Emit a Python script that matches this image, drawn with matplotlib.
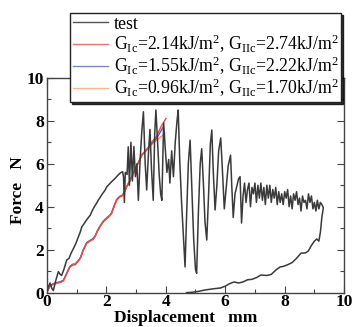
import matplotlib
matplotlib.use('Agg')
import matplotlib.pyplot as plt
from matplotlib.ticker import MultipleLocator

plt.rcParams['font.family'] = ['Liberation Serif', 'DejaVu Serif']
plt.rcParams['mathtext.fontset'] = 'custom'
plt.rcParams['mathtext.rm'] = 'Liberation Serif'
plt.rcParams['mathtext.it'] = 'Liberation Serif:italic'
plt.rcParams['mathtext.bf'] = 'Liberation Serif:bold'

# ---- data ----
test_x = [0.00, 0.06, 0.11, 0.17, 0.22, 0.30, 0.39, 0.45, 0.50, 0.58, 0.67, 0.75, 0.82, 0.90, 0.98,
          1.05, 1.12, 1.18, 1.25, 1.32, 1.40, 1.46, 1.53, 1.60, 1.67, 1.73, 1.80, 1.88, 1.95, 2.02,
          2.10, 2.17, 2.24, 2.32, 2.40, 2.48, 2.55, 2.58, 2.61, 2.64, 2.70, 2.74, 2.78, 2.83, 2.88,
          2.93, 2.98, 3.03, 3.08, 3.14, 3.20, 3.25, 3.31, 3.36, 3.42, 3.47, 3.52, 3.58, 3.63, 3.67,
          3.72, 3.78, 3.83, 3.87, 3.93, 3.98, 4.04, 4.10, 4.14, 4.20, 4.26, 4.32, 4.38, 4.42, 4.47,
          4.53, 4.58, 4.65, 4.70, 4.76, 4.82, 4.88, 4.94, 5.00, 5.04, 5.10, 5.16, 5.21, 5.27, 5.32,
          5.38, 5.44, 5.50, 5.55, 5.60, 5.66, 5.72, 5.78, 5.85, 5.91, 5.97, 6.03, 6.10, 6.18, 6.22,
          6.27, 6.33, 6.40, 6.45, 6.50, 6.55, 6.60, 6.65, 6.70, 6.75, 6.80, 6.85, 6.90, 6.95, 7.00,
          7.05, 7.10, 7.15, 7.20, 7.25, 7.30, 7.35, 7.40, 7.45, 7.50, 7.55, 7.60, 7.65, 7.70, 7.75,
          7.80, 7.85, 7.90, 7.95, 8.00, 8.05, 8.10, 8.15, 8.20, 8.25, 8.30, 8.35, 8.40, 8.45, 8.50,
          8.55, 8.60, 8.65, 8.70, 8.75, 8.80, 8.85, 8.90, 8.95, 9.00, 9.05, 9.10, 9.15, 9.20, 9.25,
          9.30,
          9.25, 9.20, 9.15, 9.08, 9.00, 8.90, 8.80, 8.70, 8.55, 8.40, 8.25, 8.10, 7.95, 7.85, 7.70,
          7.55, 7.40, 7.20, 7.05, 6.90, 6.75, 6.60, 6.45, 6.30, 6.15, 6.00, 5.85, 5.60, 5.30, 5.10,
          4.90, 4.70]
test_y = [0.00, 0.30, 0.45, 0.20, 0.10, 0.55, 0.98, 0.85, 0.80, 1.10, 1.52, 1.60, 1.85, 2.06, 2.30,
          2.55, 2.80, 3.07, 3.20, 3.35, 3.50, 3.60, 3.82, 4.00, 4.15, 4.30, 4.45, 4.62, 4.75, 4.93,
          5.05, 5.15, 5.24, 5.35, 5.48, 5.58, 5.63, 5.40, 4.20, 5.60, 5.50, 6.79, 5.00, 7.00, 5.20,
          6.80, 5.40, 6.00, 4.30, 6.20, 7.60, 8.42, 6.00, 4.78, 6.50, 7.60, 5.80, 4.30, 7.40, 8.50,
          7.20, 5.50, 4.60, 4.30, 7.90, 6.80, 5.60, 6.20, 5.10, 6.60, 5.40, 7.00, 8.00, 8.50, 6.20,
          4.30, 3.00, 1.20, 3.50, 6.00, 7.10, 4.80, 2.50, 1.10, 0.90, 3.80, 6.00, 6.70, 5.00, 3.30,
          2.45, 4.50, 6.90, 7.57, 5.60, 3.85, 5.00, 6.60, 7.20, 5.60, 3.90, 4.80, 5.90, 6.40, 5.00,
          3.50, 4.60, 5.00, 5.30, 5.40, 3.24, 4.50, 5.10, 4.20, 4.80, 5.10, 4.00, 4.90, 4.60, 5.10,
          4.20, 5.00, 4.40, 5.10, 4.30, 4.90, 4.10, 5.00, 4.40, 5.00, 4.20, 4.80, 4.40, 4.90, 4.10,
          4.70, 4.20, 4.60, 4.10, 4.70, 4.40, 4.80, 4.00, 4.50, 3.90, 4.60, 4.30, 4.70, 4.10, 4.40,
          3.80, 4.50, 4.20, 4.30, 3.90, 4.60, 4.20, 4.50, 3.90, 4.20, 3.80, 4.30, 3.90, 4.20, 4.10,
          3.95,
          3.50, 2.80, 2.40, 2.50, 2.40, 2.20, 1.95, 1.85, 1.84, 1.60, 1.40, 1.30, 1.22, 1.20, 1.05,
          0.85, 0.80, 0.82, 0.70, 0.62, 0.60, 0.50, 0.45, 0.50, 0.42, 0.30, 0.22, 0.18, 0.12, 0.06,
          0.02, 0.00]

sim_x = [0.00, 0.10, 0.20, 0.34, 0.45, 0.56, 0.66, 0.78, 0.88, 0.95, 1.05, 1.13, 1.22, 1.34, 1.45,
         1.55, 1.62, 1.70, 1.79, 1.90, 2.02, 2.10, 2.18, 2.26, 2.35, 2.45, 2.55, 2.62, 2.69, 2.80,
         2.91, 3.00, 3.10, 3.20, 3.36]
sim_y = [0.00, 0.28, 0.38, 0.44, 0.48, 0.55, 0.85, 1.20, 1.30, 1.30, 1.45, 1.60, 1.95, 2.30, 2.40,
         2.48, 2.60, 2.85, 3.07, 3.30, 3.46, 3.55, 3.69, 4.00, 4.31, 4.45, 4.52, 4.70, 4.93, 5.20,
         5.55, 5.80, 6.10, 6.40, 6.64]

red_tail_x = [3.50, 3.70, 3.85, 4.01]
red_tail_y = [6.95, 7.30, 7.75, 8.11]
blue_tail_x = [3.50, 3.70, 3.92]
blue_tail_y = [6.90, 7.20, 7.72]
orange_tail_x = [3.50, 3.60, 3.70, 3.80, 3.90, 3.97]
orange_tail_y = [6.85, 7.00, 7.10, 7.22, 7.32, 7.41]

labels = ['test',
          r'G$_{\mathrm{Ic}}$=2.14kJ/m$^2$, G$_{\mathrm{IIc}}$=2.74kJ/m$^2$',
          r'G$_{\mathrm{Ic}}$=1.55kJ/m$^2$, G$_{\mathrm{IIc}}$=2.22kJ/m$^2$',
          r'G$_{\mathrm{Ic}}$=0.96kJ/m$^2$, G$_{\mathrm{IIc}}$=1.70kJ/m$^2$']

fig = plt.figure(figsize=(3.57, 3.27), dpi=100)
ax = fig.add_axes([0.131, 0.105, 0.833, 0.657])

ax.plot(sim_x + orange_tail_x, sim_y + orange_tail_y, color='#ff8c5a', lw=1.0)
ax.plot(sim_x + blue_tail_x, [v + 0.03 for v in sim_y] + blue_tail_y, color='#4a5cc8', lw=1.0)
ax.plot(sim_x + red_tail_x, sim_y + red_tail_y, color='#f04a3a', lw=1.0)
ax.plot(test_x, test_y, color='#3a3a3a', lw=1.1)

# legend handles in the same order as the original
h_test, = ax.plot([], [], color='#555555', lw=1.0)
h_red, = ax.plot([], [], color='#f07070', lw=1.0)
h_blue, = ax.plot([], [], color='#7f86d0', lw=1.0)
h_orange, = ax.plot([], [], color='#ffb48c', lw=1.0)

ax.set_xlim(0, 10)
ax.set_ylim(0, 10)
ax.xaxis.set_major_locator(MultipleLocator(2))
ax.xaxis.set_minor_locator(MultipleLocator(1))
ax.yaxis.set_major_locator(MultipleLocator(2))
ax.yaxis.set_minor_locator(MultipleLocator(1))
ax.tick_params(which='both', direction='in', top=True, right=True, color='#444444')
ax.tick_params(which='major', length=5, width=0.8, pad=1)
ax.tick_params(axis='y', which='major', pad=2)
ax.tick_params(which='minor', length=3, width=0.8)
for lab in ax.get_xticklabels() + ax.get_yticklabels():
    lab.set_fontweight('bold')
    lab.set_fontsize(12.5)
for sp in ax.spines.values():
    sp.set_color('#444444')
    sp.set_linewidth(1.0)

fig.text(0.52, 0.028, 'Displacement   mm', fontsize=12.5, fontweight='bold',
         ha='center', va='center')
fig.text(0.05, 0.42, 'Force   N', fontsize=12.5, fontweight='bold',
         ha='center', va='center', rotation=90)

leg = fig.legend([h_test, h_red, h_blue, h_orange], labels,
                 loc='upper left', bbox_to_anchor=(70 / 357, 1 - 13 / 327),
                 fontsize=12.8, frameon=True, fancybox=False,
                 shadow={'color': 'black', 'alpha': 0.8, 'ox': 1.5, 'oy': -1.5},
                 framealpha=1, edgecolor='#222222', handlelength=2.0,
                 handletextpad=0.3, labelspacing=0.0, borderpad=0.15,
                 borderaxespad=0)
leg.get_frame().set_linewidth(1.0)

fig.savefig('out.png', dpi=100)
